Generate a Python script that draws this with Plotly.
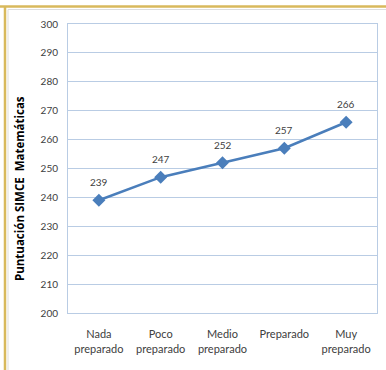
import plotly.graph_objects as go

categories = ["Nada<br>preparado", "Poco<br>preparado", "Medio<br>preparado", "Preparado", "Muy<br>preparado"]
scores = [239, 247, 252, 257, 266]
y_ticks = [200, 210, 220, 230, 240, 250, 260, 270, 280, 290, 300]

W, H = 386, 370
ML, MR, MT, MB = 68, 9, 24, 57
pw, ph = W - ML - MR, H - MT - MB

def px_x(x):
    return (x - ML) / pw

def px_y(y):
    return (H - MB - y) / ph

grid = "#b9cce4"
line_col = "#4a7ebb"
gold = "#d8b95c"

fig = go.Figure()
fig.add_trace(go.Scatter(
    x=categories, y=scores, mode="lines+markers",
    line=dict(color=line_col, width=2.5),
    marker=dict(symbol="diamond", size=10, color=line_col),
    cliponaxis=False, hoverinfo="skip",
))

labels = [dict(text=str(v), x=c, y=v, xref="x", yref="y", yshift=10, showarrow=False,
               font=dict(family="Lato", size=10, color="#404040"), yanchor="bottom")
          for c, v in zip(categories, scores)]

fig.update_layout(
    width=W, height=H,
    margin=dict(l=ML, r=MR, t=MT, b=MB, pad=0),
    paper_bgcolor="white", plot_bgcolor="white",
    showlegend=False,
    font=dict(family="Lato", color="#404040"),
    xaxis=dict(
        range=[-0.5, 4.5],
        showgrid=False, ticks="", showline=True, linecolor=grid, mirror=True,
        tickfont=dict(size=11, color="#404040"), zeroline=False,
        ticklabelstandoff=11,
    ),
    yaxis=dict(
        range=[200, 300], tickvals=y_ticks, showgrid=True, gridcolor=grid, gridwidth=1,
        showline=True, linecolor=grid, mirror=True, ticks="", zeroline=False,
        tickfont=dict(size=10, color="#404040"), ticklabelstandoff=7,
    ),
    shapes=[
        dict(type="line", xref="paper", yref="paper", x0=px_x(0), x1=px_x(W), y0=px_y(6.5), y1=px_y(6.5),
             line=dict(color=gold, width=2.5)),
        dict(type="line", xref="paper", yref="paper", x0=px_x(5), x1=px_x(5), y0=px_y(6.5), y1=px_y(H),
             line=dict(color=gold, width=2.5)),
        dict(type="line", xref="paper", yref="paper", x0=px_x(8), x1=px_x(W), y0=px_y(9.5), y1=px_y(9.5),
             line=dict(color="#dddddd", width=1)),
        dict(type="line", xref="paper", yref="paper", x0=px_x(8), x1=px_x(8), y0=px_y(9.5), y1=px_y(H),
             line=dict(color="#dddddd", width=1)),
    ],
    annotations=labels + [
        dict(text="<b>los alumnos en Matemáticas</b>", xref="paper", yref="paper",
             x=px_x(212), y=px_y(4), xanchor="center", yanchor="bottom", showarrow=False,
             font=dict(family="Lato", size=18, color="#d4a017")),
        dict(text="<b>Puntuación SIMCE  Matemáticas</b>", xref="paper", yref="paper",
             x=px_x(19), y=px_y(189), xanchor="center", yanchor="middle", showarrow=False,
             textangle=-90, font=dict(family="Open Sans", size=11.5, color="#000000")),
    ],
)
fig.write_html("out.html")
